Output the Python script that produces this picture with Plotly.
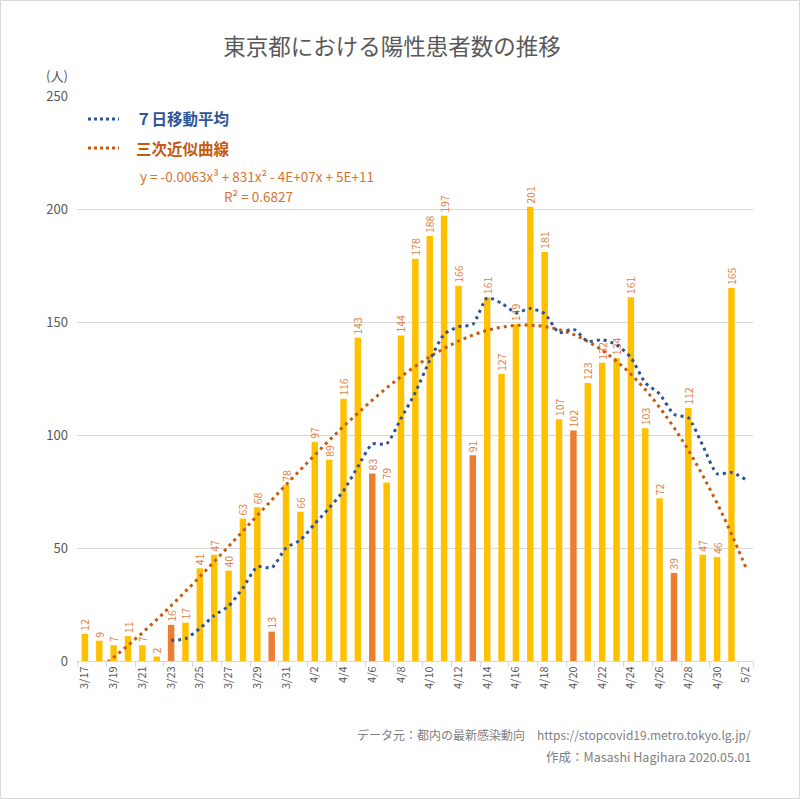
import plotly.graph_objects as go

# ---------------- data ----------------
dates = ["3/17", "3/18", "3/19", "3/20", "3/21", "3/22", "3/23", "3/24", "3/25", "3/26",
         "3/27", "3/28", "3/29", "3/30", "3/31", "4/1", "4/2", "4/3", "4/4", "4/5",
         "4/6", "4/7", "4/8", "4/9", "4/10", "4/11", "4/12", "4/13", "4/14", "4/15",
         "4/16", "4/17", "4/18", "4/19", "4/20", "4/21", "4/22", "4/23", "4/24", "4/25",
         "4/26", "4/27", "4/28", "4/29", "4/30", "5/1", "5/2"]

cases = [12, 9, 7, 11, 7, 2, 16, 17, 41, 47,
         40, 63, 68, 13, 78, 66, 97, 89, 116, 143,
         83, 79, 144, 178, 188, 197, 166, 91, 161, 127,
         149, 201, 181, 107, 102, 123, 132, 134, 161, 103,
         72, 39, 112, 47, 46, 165, None]

monday_dates = ["3/23", "3/30", "4/6", "4/13", "4/20", "4/27"]

# 7-day moving average (values as shown, from 3/23)
ma_dates = dates[6:]
ma_values = [9.14, 9.86, 14.43, 20.14, 24.29, 32.29, 41.71, 41.29, 50.0, 53.57,
             60.71, 67.71, 75.29, 86.0, 96.0, 96.14, 107.29, 118.86, 133.0, 144.57,
             147.86, 149.0, 160.71, 158.29, 154.14, 156.0, 153.71, 145.29, 146.86, 141.43,
             142.14, 140.0, 134.29, 123.14, 118.14, 109.14, 107.57, 95.43, 82.86, 83.43,
             80.3]

# cubic trend line values as shown
trend_values = [-7.7, -3.3, 1.6, 6.9, 12.5, 18.3, 24.5, 30.8, 37.3, 44.0,
                50.7, 57.5, 64.4, 71.2, 78.0, 84.6, 91.2, 97.6, 103.8, 109.7,
                115.4, 120.8, 125.8, 130.4, 134.6, 138.3, 141.5, 144.2, 146.3, 147.7,
                148.5, 148.6, 148.0, 146.6, 144.5, 141.4, 137.5, 132.7, 126.9, 120.1,
                112.2, 103.3, 93.3, 82.1, 69.8, 56.2, 41.4]

tick_dates = dates[::2]
y_ticks = [0, 50, 100, 150, 200, 250]

title_text = "東京都における陽性患者数の推移"
unit_text = "(人)"
legend_ma = "７日移動平均"
legend_trend = "三次近似曲線"
equation_text = "y = -0.0063x³ + 831x² - 4E+07x + 5E+11"
r2_text = "R² = 0.6827"
source_text = "データ元：都内の最新感染動向　https://stopcovid19.metro.tokyo.lg.jp/"
author_text = "作成：Masashi Hagihara 2020.05.01"

# ---------------- style ----------------
W, H = 800, 799
L, R, T, B = 77, 47, 96, 138
PW, PH = W - L - R, H - T - B
FONT = "Noto Sans CJK JP"
YELLOW = "#FFC000"
ORANGE = "#ED7D31"
BLUE = "#2F5597"
DARKORANGE = "#C55A11"
LABEL = "#E0803E"
GRID = "#D9D9D9"
TXT = "#595959"


def px(x):
    return (x - L) / PW


def py(y):
    return (H - B - y) / PH


bar_colors = [ORANGE if d in monday_dates else YELLOW for d in dates]

fig = go.Figure()
fig.add_trace(go.Bar(
    x=dates, y=cases, marker=dict(color=bar_colors, line=dict(width=0)),
    width=0.45, texttemplate="%{y}", textposition="outside", textangle=-90,
    constraintext="none", cliponaxis=False,
    textfont=dict(family=FONT, size=10.5, color=LABEL),
    hoverinfo="x+y", showlegend=False))

fig.add_trace(go.Scatter(
    x=dates, y=trend_values, mode="lines",
    line=dict(color=DARKORANGE, width=3, dash="3px,4px", shape="spline"),
    showlegend=False))

fig.add_trace(go.Scatter(
    x=ma_dates, y=ma_values, mode="lines",
    line=dict(color=BLUE, width=3, dash="3px,4px", shape="spline", smoothing=0.6),
    showlegend=False))

fig.update_layout(
    width=W, height=H,
    margin=dict(l=L, r=R, t=T, b=B),
    paper_bgcolor="white", plot_bgcolor="white",
    font=dict(family=FONT, color=TXT),
    bargap=0.55,
    title=dict(text=title_text, x=0.49, xanchor="center", y=1 - 47 / H, yanchor="middle",
               font=dict(family=FONT, size=22.5, color=TXT)),
    xaxis=dict(type="category", range=[-0.55, 46.5],
               tickmode="array", tickvals=tick_dates, ticktext=tick_dates,
               tickangle=-90, tickfont=dict(family=FONT, size=11, color=TXT),
               showgrid=False, showline=True, linecolor=GRID, linewidth=1,
               ticks="outside", ticklen=5, tickcolor=GRID, tickson="boundaries"),
    yaxis=dict(range=[0, 250], tickmode="array", tickvals=y_ticks,
               tickfont=dict(family=FONT, size=13, color=TXT),
               showgrid=True, gridcolor=GRID, gridwidth=1, zeroline=False,
               ticks="", ticklabelstandoff=8),
)

annotations = [
    dict(text=unit_text, x=px(57), y=py(76), xanchor="center", yanchor="middle",
         font=dict(size=13, color=TXT)),
    dict(text="<b>" + legend_ma + "</b>", x=px(134), y=py(118), xanchor="left", yanchor="middle",
         font=dict(size=15.5, color=BLUE)),
    dict(text="<b>" + legend_trend + "</b>", x=px(134), y=py(148), xanchor="left", yanchor="middle",
         font=dict(size=15.5, color=DARKORANGE)),
    dict(text=equation_text, x=px(257), y=py(176), xanchor="center", yanchor="middle",
         font=dict(size=13.5, color="#D9732F")),
    dict(text=r2_text, x=px(258), y=py(196), xanchor="center", yanchor="middle",
         font=dict(size=13.5, color="#D9732F")),
    dict(text=source_text, x=px(753), y=py(734), xanchor="right", yanchor="middle",
         font=dict(size=12, color="#808080")),
    dict(text=author_text, x=px(753), y=py(756), xanchor="right", yanchor="middle",
         font=dict(size=12.5, color="#808080")),
]
for a in annotations:
    a.update(xref="paper", yref="paper", showarrow=False)
fig.update_layout(annotations=annotations)

shapes = [
    dict(type="line", xref="paper", yref="paper", x0=px(88), x1=px(119), y0=py(119), y1=py(119),
         line=dict(color=BLUE, width=3, dash="3px,3px")),
    dict(type="line", xref="paper", yref="paper", x0=px(88), x1=px(119), y0=py(148), y1=py(148),
         line=dict(color=DARKORANGE, width=3, dash="3px,3px")),
    dict(type="rect", xref="paper", yref="paper", x0=px(0.5), x1=px(799.5), y0=py(798.5), y1=py(0.5),
         line=dict(color=GRID, width=1), fillcolor="rgba(0,0,0,0)"),
]
fig.update_layout(shapes=shapes)

fig.write_html("out.html", config={"displayModeBar": False},
               post_script="document.body.style.margin='0';document.body.style.padding='0';")
